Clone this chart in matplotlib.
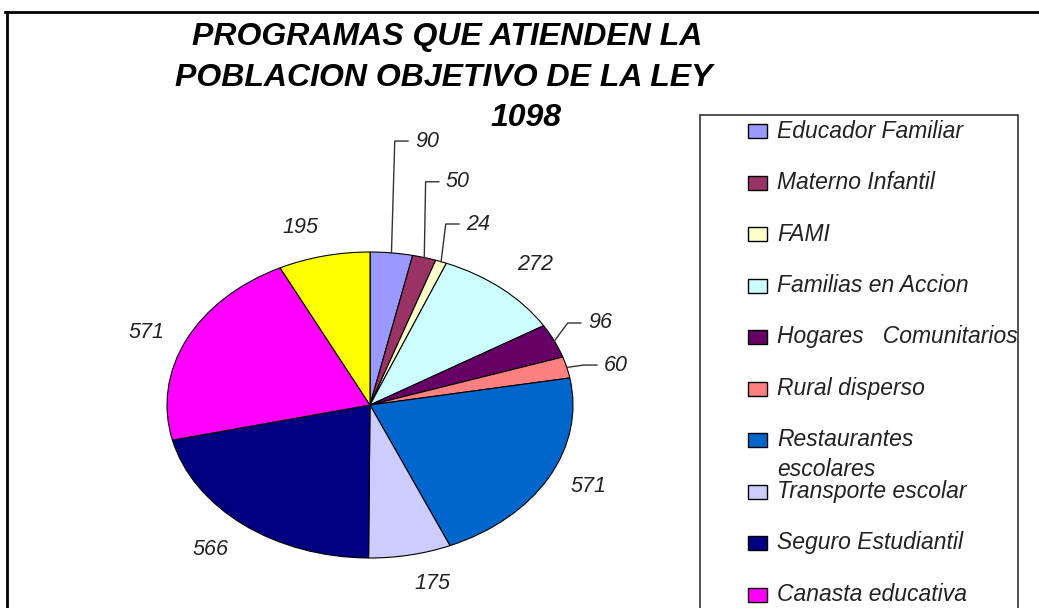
import matplotlib.pyplot as plt
import numpy as np
from matplotlib.lines import Line2D
from matplotlib.patches import Rectangle

# datos del grafico
programas = [
    "Educador Familiar",
    "Materno Infantil",
    "FAMI",
    "Familias en Accion",
    "Hogares   Comunitarios",
    "Rural disperso",
    "Restaurantes\nescolares",
    "Transporte escolar",
    "Seguro Estudiantil",
    "Canasta educativa",
    "Desayunos Infantiles",
]
beneficiarios = [90, 50, 24, 272, 96, 60, 571, 175, 566, 571, 195]
colores = [
    "#9999FF", "#993366", "#FFFFCC", "#CCFFFF", "#660066", "#FF8080",
    "#0066CC", "#CCCCFF", "#000080", "#FF00FF", "#FFFF00",
]
titulo = ["PROGRAMAS QUE ATIENDEN LA", "POBLACION OBJETIVO DE LA LEY", "1098"]

# etiquetas con linea guia: posicion del texto (en radios de la torta)
etiquetas_guia = {0: (0.222, 1.725), 1: (0.374, 1.459), 2: (0.473, 1.183),
                  4: (1.074, 0.536), 5: (1.153, 0.261)}

W, H = 1039, 608
CX, CY, RX, RY = 370, 405, 203, 153

plt.rcParams["font.family"] = ["Liberation Sans", "DejaVu Sans"]

fig = plt.figure(figsize=(W / 100, H / 100), dpi=100)
ax = fig.add_axes([0, 0, 1, 1])

wedges, _ = ax.pie(
    beneficiarios,
    colors=colores,
    startangle=90,
    counterclock=False,
    wedgeprops={"edgecolor": "black", "linewidth": 0.8},
)
ax.set_aspect("auto")
ax.set_xlim(-CX / RX, (W - CX) / RX)
ax.set_ylim(-(H - CY) / RY, CY / RY)
ax.axis("off")

color_txt = "#222222"
for i, (w, v) in enumerate(zip(wedges, beneficiarios)):
    ang = np.deg2rad((w.theta1 + w.theta2) / 2)
    c, s = np.cos(ang), np.sin(ang)
    if i in etiquetas_guia:
        tx, ty = etiquetas_guia[i]
        ax.plot([c, tx - 0.1, tx - 0.035], [s, ty, ty], color="#333333", lw=1.0)
        ax.text(tx, ty, str(v), ha="left", va="center", fontsize=15.5,
                style="italic", color=color_txt)
    else:
        f = 1.12
        ha = "left" if c > 0.1 else ("right" if c < -0.1 else "center")
        if abs(s) < 0.5:
            va = "center"
        else:
            va = "bottom" if s > 0 else "top"
        ax.text(f * c, f * s, str(v), ha=ha, va=va, fontsize=15.5,
                style="italic", color=color_txt)


def fx(px):
    return px / W


def fy(py):
    return 1 - py / H


# titulo
for linea, (px, py) in zip(titulo, [(447, 37), (444, 78), (526, 118)]):
    fig.text(fx(px), fy(py), linea, ha="center", va="center", fontsize=23,
             fontweight="bold", style="italic", color="black")

# marco exterior
fig.add_artist(Line2D([fx(5), fx(W)], [fy(12), fy(12)], color="black", lw=2))
fig.add_artist(Line2D([fx(7), fx(7)], [fy(12), fy(H + 5)], color="black", lw=2))

# leyenda (solo las filas que caben en la imagen)
fig.add_artist(Rectangle((fx(700), fy(640)), fx(1018) - fx(700), fy(115) - fy(640),
                         transform=fig.transFigure, facecolor="none",
                         edgecolor="#333333", lw=1.2))
for k, (nombre, col) in enumerate(zip(programas, colores)):
    yc = 131 + 51.5 * k
    if yc > H - 10:
        break
    fig.add_artist(Rectangle((fx(748), fy(yc + 7)), fx(19), 14 / H,
                             transform=fig.transFigure, facecolor=col,
                             edgecolor="black", lw=1.0))
    for j, parte in enumerate(nombre.split("\n")):
        fig.text(fx(777), fy(yc + 29 * j), parte, ha="left", va="center",
                 fontsize=16.5, style="italic", color=color_txt)

fig.savefig("out.png", dpi=100, facecolor="white")
